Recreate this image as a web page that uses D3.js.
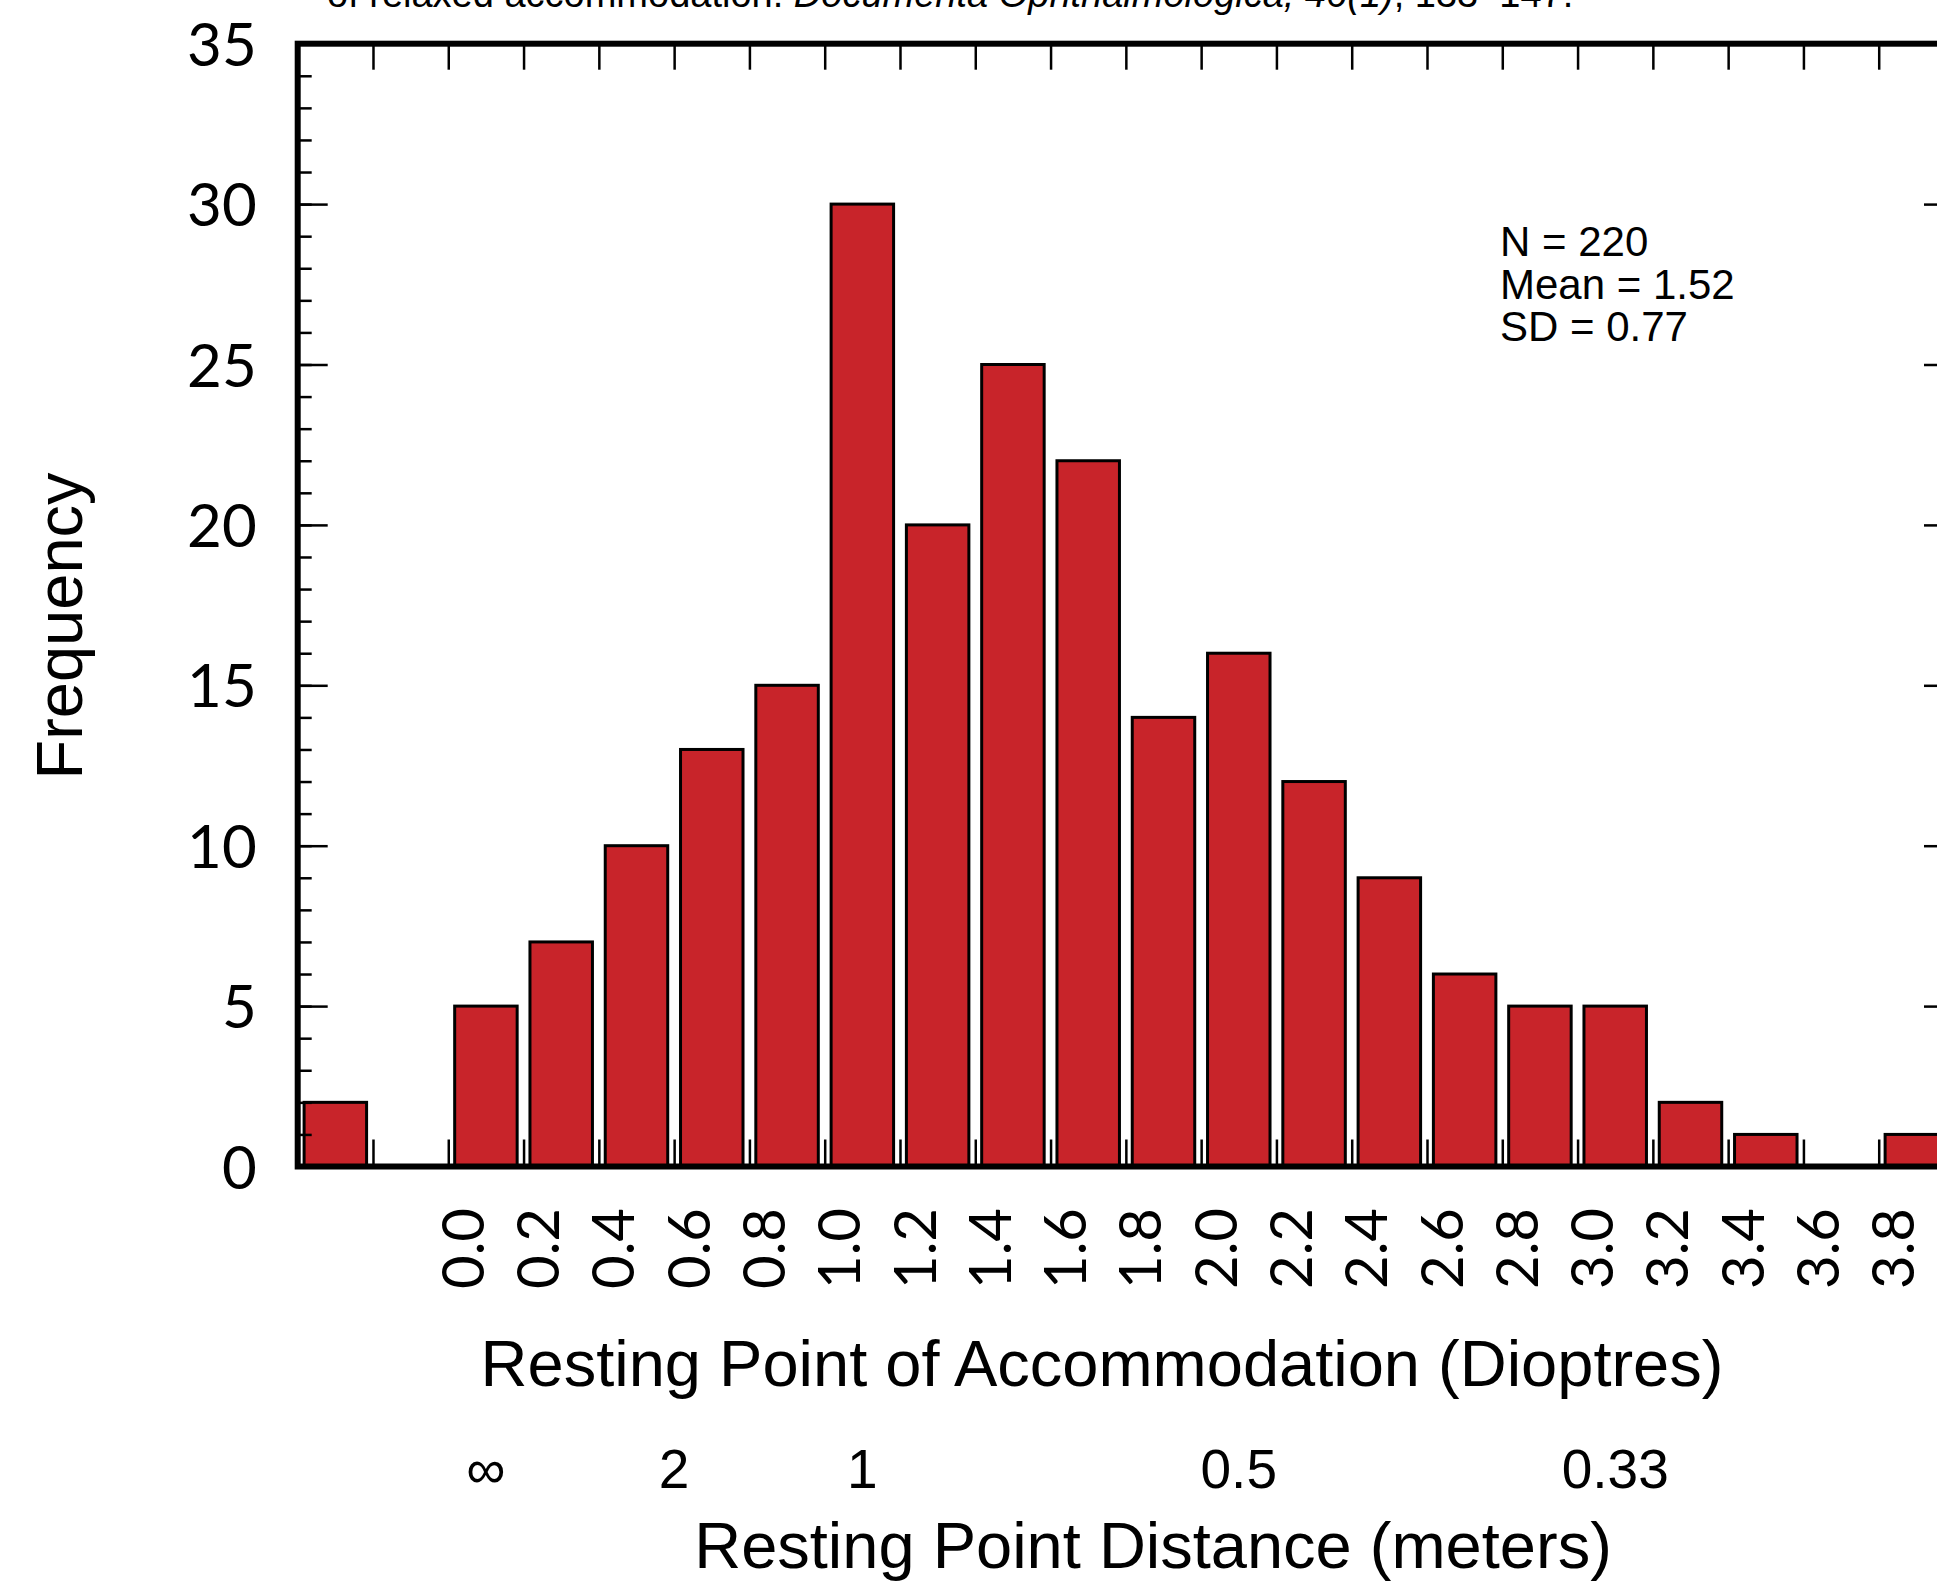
<!DOCTYPE html>
<html>
<head>
<meta charset="utf-8">
<script src="https://cdn.jsdelivr.net/npm/d3@7"></script>
<style>
  html, body { margin: 0; padding: 0; background: #fff; overflow: hidden; }
  svg { display: block; }
</style>
</head>
<body>
<svg id="chart" width="1937" height="1589"></svg>
<script>
// histogram bins, the first slot is the one left of 0.0 (no label), second is empty
const categories = ["below", "blank", "0.0", "0.2", "0.4", "0.6", "0.8", "1.0", "1.2", "1.4", "1.6",
                    "1.8", "2.0", "2.2", "2.4", "2.6", "2.8", "3.0", "3.2", "3.4", "3.6", "3.8"];
const tickLabels = ["", "", "0.0", "0.2", "0.4", "0.6", "0.8", "1.0", "1.2", "1.4", "1.6",
                    "1.8", "2.0", "2.2", "2.4", "2.6", "2.8", "3.0", "3.2", "3.4", "3.6", "3.8"];
const frequencies = [2, 0, 5, 7, 10, 13, 15, 30, 20, 25, 22, 14, 16, 12, 9, 6, 5, 5, 2, 1, 0, 1];
const yMajorTicks = [0, 5, 10, 15, 20, 25, 30, 35];
const distanceLabels = ["∞", "2", "1", "0.5", "0.33"];
const distanceDioptres = [0, 0.5, 1, 2, 3];
const statsLines = ["N = 220", "Mean = 1.52", "SD = 0.77"];

const svg = d3.select("#chart");
const X0 = 297.7, X1 = 1954;
const Y_TOP = 43.7, Y_BOT = 1166.5;
const BAR_COLOR = "#c8242a";
const TICK_FONT = "Lato, 'Open Sans', sans-serif";
const TEXT_FONT = "'Liberation Sans', Arial, Helvetica, sans-serif";

const xScale = d3.scaleBand()
                 .domain(categories)
                 .range([X0, X1])
                 .paddingInner(0.17)
                 .paddingOuter(0.085);

// slot edges for the boundary ticks
const edgeScale = d3.scaleLinear()
                    .domain([0, categories.length])
                    .range([X0, X1]);

const yScale = d3.scaleLinear()
                 .domain([0, 35])
                 .range([Y_BOT, Y_TOP]);

const bw = xScale.bandwidth();
const dioptreScale = d3.scaleLinear()
                       .domain([0, 3.8])
                       .range([xScale("0.0") + bw / 2, xScale("3.8") + bw / 2]);

// header line, cut off at the top of the picture
const header = svg.append("text")
                  .attr("x", 327)
                  .attr("y", 7)
                  .style("font-family", TEXT_FONT)
                  .style("font-size", "38px");
header.append("tspan").text("of relaxed accommodation. ");
header.append("tspan").style("font-style", "italic").text("Documenta Ophthalmologica, 46(1)");
header.append("tspan").text(", 133–147.");

// bars
svg.append("g")
   .selectAll("rect")
   .data(frequencies)
   .enter()
   .append("rect")
   .attr("x", (d, i) => xScale(categories[i]))
   .attr("y", d => yScale(d))
   .attr("width", bw)
   .attr("height", d => Y_BOT - yScale(d))
   .attr("fill", BAR_COLOR)
   .attr("stroke", d => d > 0 ? "#000" : "none")
   .attr("stroke-width", 3);

// y axis: minor + major ticks pointing inwards
const edgeTicks = d3.range(0, categories.length + 1);

function styleAxis(g, w) {
    g.select(".domain").remove();
    g.selectAll(".tick line").attr("stroke", "#000").attr("stroke-width", w);
}

svg.append("g")
   .attr("transform", `translate(${X0}, 0)`)
   .call(d3.axisLeft(yScale).tickValues(d3.range(0, 36)).tickSizeInner(-14).tickFormat(""))
   .call(g => styleAxis(g, 2.5));

svg.append("g")
   .attr("transform", `translate(${X0}, 0)`)
   .call(d3.axisLeft(yScale).tickValues(yMajorTicks).tickSizeInner(-30).tickPadding(41))
   .call(g => styleAxis(g, 2.5))
   .call(g => g.selectAll("text")
               .style("font-family", TICK_FONT)
               .style("font-size", "60px")
               .style("font-variant-numeric", "tabular-nums")
               .attr("dy", "0.36em")
               .attr("fill", "#000"));

svg.append("g")
   .attr("transform", `translate(${X1}, 0)`)
   .call(d3.axisRight(yScale).tickValues(d3.range(0, 36)).tickSizeInner(-14).tickFormat(""))
   .call(g => styleAxis(g, 2.5));

svg.append("g")
   .attr("transform", `translate(${X1}, 0)`)
   .call(d3.axisRight(yScale).tickValues(yMajorTicks).tickSizeInner(-30).tickFormat(""))
   .call(g => styleAxis(g, 2.5));

// x boundary ticks, top and bottom
svg.append("g")
   .attr("transform", `translate(0, ${Y_TOP})`)
   .call(d3.axisTop(edgeScale).tickValues(edgeTicks).tickSizeInner(-26).tickFormat(""))
   .call(g => styleAxis(g, 2.5));

svg.append("g")
   .attr("transform", `translate(0, ${Y_BOT})`)
   .call(d3.axisBottom(edgeScale).tickValues(edgeTicks).tickSizeInner(-27).tickFormat(""))
   .call(g => styleAxis(g, 2.5));

// frame
svg.append("rect")
   .attr("x", X0)
   .attr("y", Y_TOP)
   .attr("width", X1 - X0)
   .attr("height", Y_BOT - Y_TOP)
   .attr("fill", "none")
   .attr("stroke", "#000")
   .attr("stroke-width", 6);

// rotated dioptre labels
svg.append("g")
   .selectAll("text")
   .data(tickLabels)
   .enter()
   .append("text")
   .attr("transform", (d, i) => `translate(${xScale(categories[i]) + bw / 2 - 2}, 1208) rotate(-90)`)
   .attr("text-anchor", "end")
   .style("font-family", TICK_FONT)
   .style("font-size", "58px")
   .style("font-variant-numeric", "tabular-nums")
   .text(d => d);

// axis titles
svg.append("text")
   .attr("x", 1102)
   .attr("y", 1386)
   .attr("text-anchor", "middle")
   .style("font-family", TEXT_FONT)
   .style("font-size", "65px")
   .text("Resting Point of Accommodation (Dioptres)");

svg.append("g")
   .selectAll("text")
   .data(distanceLabels)
   .enter()
   .append("text")
   .attr("x", (d, i) => dioptreScale(distanceDioptres[i]))
   .attr("y", 1488)
   .attr("text-anchor", "middle")
   .style("font-family", TEXT_FONT)
   .style("font-size", "55px")
   .text(d => d);

svg.append("text")
   .attr("x", 1153)
   .attr("y", 1568)
   .attr("text-anchor", "middle")
   .style("font-family", TEXT_FONT)
   .style("font-size", "65px")
   .text("Resting Point Distance (meters)");

svg.append("text")
   .attr("transform", "translate(82, 626) rotate(-90)")
   .attr("text-anchor", "middle")
   .style("font-family", TEXT_FONT)
   .style("font-size", "65px")
   .text("Frequency");

// summary stats
svg.append("g")
   .selectAll("text")
   .data(statsLines)
   .enter()
   .append("text")
   .attr("x", 1500)
   .attr("y", (d, i) => 256 + i * 42.5)
   .style("font-family", TEXT_FONT)
   .style("font-size", "42px")
   .text(d => d);
</script>
</body>
</html>
